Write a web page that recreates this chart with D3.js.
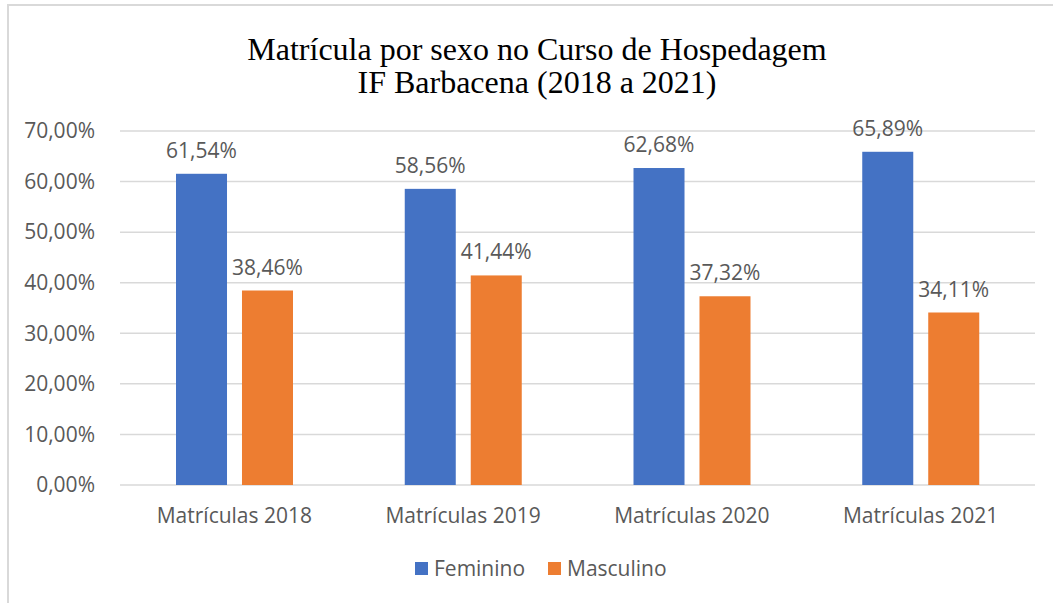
<!DOCTYPE html>
<html lang="pt">
<head>
    <meta charset="UTF-8">
    <title>Matrícula por sexo no Curso de Hospedagem</title>
    <script src="https://d3js.org/d3.v7.min.js"></script>
    <style>
        body { margin: 0; padding: 0; background: white; }
        svg { display: block; }
        .lbl { font-family: 'Open Sans', sans-serif; font-size: 21px; fill: #595959; }
        .title { font-family: 'Liberation Serif', 'Times New Roman', serif; font-size: 32px; fill: #000; }
    </style>
</head>
<body>
    <svg id="chart" width="1053" height="603"></svg>
    <script type="text/javascript">
        // data
        const categories = ["Matrículas 2018", "Matrículas 2019", "Matrículas 2020", "Matrículas 2021"];
        const seriesNames = ["Feminino", "Masculino"];
        const feminino = [61.54, 58.56, 62.68, 65.89];
        const masculino = [38.46, 41.44, 37.32, 34.11];
        const yTicks = [0, 10, 20, 30, 40, 50, 60, 70];
        const titleLines = ["Matrícula por sexo no Curso de Hospedagem", "IF Barbacena (2018 a 2021)"];

        const colors = ["#4472C4", "#ED7D31"];
        const svg = d3.select("#chart");

        // outer chart-area border (cut off at right and bottom like the screenshot)
        svg.append("rect")
            .attr("x", 8).attr("y", 5)
            .attr("width", 1100).attr("height", 700)
            .attr("fill", "none")
            .attr("stroke", "#d9d9d9")
            .attr("stroke-width", 2);

        const margin = {left: 120, right: 18, top: 131, bottom: 118};
        const width = 1053 - margin.left - margin.right;
        const height = 603 - margin.top - margin.bottom;

        const x = d3.scaleBand().domain(categories).range([0, width]).paddingInner(0).paddingOuter(0);
        const xSeries = d3.scaleBand().domain(seriesNames).range([56, 173]).paddingInner(0.227);
        const y = d3.scaleLinear().domain([0, 70]).range([height, 0]);

        const g = svg.append("g").attr("transform", `translate(${margin.left},${margin.top})`);

        // gridlines
        g.append("g").selectAll("line")
            .data(yTicks)
            .join("line")
            .attr("x1", 0).attr("x2", width)
            .attr("y1", d => y(d)).attr("y2", d => y(d))
            .attr("stroke", "#d9d9d9")
            .attr("stroke-width", 1.5);

        // y tick labels
        const fmt = d => d.toFixed(2).replace(".", ",") + "%";
        g.append("g").selectAll("text")
            .data(yTicks)
            .join("text")
            .attr("class", "lbl")
            .attr("x", -25)
            .attr("y", d => y(d))
            .attr("dy", "0.35em")
            .attr("text-anchor", "end")
            .text(fmt);

        // bars
        const rows = categories.map((c, i) => ({cat: c, vals: [feminino[i], masculino[i]]}));
        const groups = g.selectAll(".cat")
            .data(rows)
            .join("g")
            .attr("class", "cat")
            .attr("transform", d => `translate(${x(d.cat)},0)`);

        groups.selectAll("rect")
            .data(d => d.vals.map((v, k) => ({name: seriesNames[k], v: v, k: k})))
            .join("rect")
            .attr("x", d => xSeries(d.name))
            .attr("width", xSeries.bandwidth())
            .attr("y", d => y(d.v))
            .attr("height", d => y(0) - y(d.v))
            .attr("fill", d => colors[d.k]);

        groups.selectAll("text.val")
            .data(d => d.vals.map((v, k) => ({name: seriesNames[k], v: v, k: k})))
            .join("text")
            .attr("class", "lbl val")
            .attr("x", d => xSeries(d.name) + xSeries.bandwidth() / 2)
            .attr("y", d => y(d.v) - 16)
            .attr("text-anchor", "middle")
            .text(d => d.v.toFixed(2).replace(".", ",") + "%");

        // category labels
        g.append("g").selectAll("text")
            .data(categories)
            .join("text")
            .attr("class", "lbl")
            .attr("x", d => x(d) + x.bandwidth() / 2)
            .attr("y", height + 38)
            .attr("text-anchor", "middle")
            .text(d => d);

        // title
        svg.append("g").selectAll("text")
            .data(titleLines)
            .join("text")
            .attr("class", "title")
            .attr("x", 537)
            .attr("y", (d, i) => 60 + i * 33)
            .attr("text-anchor", "middle")
            .text(d => d);

        // legend
        const legendX = [415, 548];
        const legend = svg.append("g").selectAll("g")
            .data(seriesNames)
            .join("g")
            .attr("transform", (d, i) => `translate(${legendX[i]},562)`);
        legend.append("rect")
            .attr("width", 13).attr("height", 13)
            .attr("fill", (d, i) => colors[i]);
        legend.append("text")
            .attr("class", "lbl")
            .attr("x", 19)
            .attr("y", 14)
            .text(d => d);
    </script>
</body>
</html>
